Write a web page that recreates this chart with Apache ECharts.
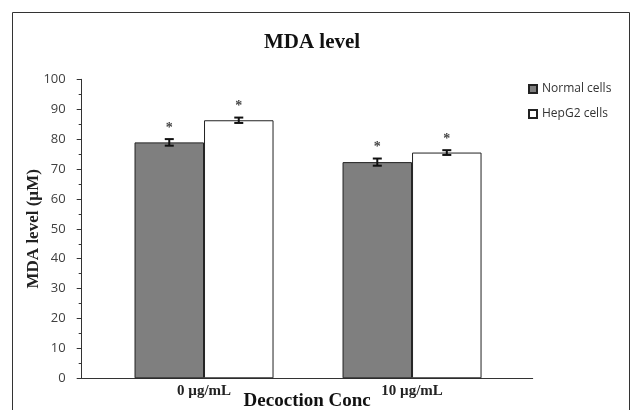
<!DOCTYPE html>
<html>
<head>
<meta charset="utf-8">
<script src="https://cdn.jsdelivr.net/npm/echarts@6/dist/echarts.min.js"></script>
<style>
html,body{margin:0;padding:0;background:#fff;}
#chart{width:637px;height:410px;}
</style>
</head>
<body>
<div id="chart"></div>
<script>
// ---- data ----
var categories = ['0 \u00b5g/mL', '10 \u00b5g/mL'];
var categoryPos = [0, 1];
var normalValues = [78.9, 72.3];
var normalErrors = [1.1, 1.2];
var hepg2Values = [86.3, 75.5];
var hepg2Errors = [0.9, 0.8];
var normalMarks = ['*', '*'];
var hepg2Marks = ['*', '*'];
var yTicks = [0, 10, 20, 30, 40, 50, 60, 70, 80, 90, 100];

var BAR_W = 69.5;
var serif = '"Liberation Serif", "DejaVu Serif", serif';
var sans = '"Open Sans", "Liberation Sans", sans-serif';

function errData(vals, errs, marks) {
  return vals.map(function (v, i) { return [categoryPos[i], v, errs[i], marks[i]]; });
}

function errRender(offset) {
  return function (params, api) {
    var x = api.value(0), v = api.value(1), e = api.value(2);
    var top = api.coord([x, v + e]);
    var bot = api.coord([x, v - e]);
    var cx = top[0] + offset;
    var cap = 4.5;
    var st = { stroke: '#111', lineWidth: 2 };
    return {
      type: 'group',
      children: [
        { type: 'line', shape: { x1: cx, y1: top[1], x2: cx, y2: bot[1] }, style: st },
        { type: 'line', shape: { x1: cx - cap, y1: top[1], x2: cx + cap, y2: top[1] }, style: st },
        { type: 'line', shape: { x1: cx - cap, y1: bot[1], x2: cx + cap, y2: bot[1] }, style: st },
        { type: 'text', x: cx, y: top[1] - 4,
          style: { text: api.value(3), fill: '#444', font: 'bold 14px ' + serif, align: 'center', verticalAlign: 'bottom' } }
      ]
    };
  };
}

var chart = echarts.init(document.getElementById('chart'));
chart.setOption({
  animation: false,
  backgroundColor: '#fff',
  title: {
    text: 'MDA level',
    left: 307, top: 27, textAlign: 'center',
    textStyle: { fontFamily: serif, fontWeight: 'bold', fontSize: 21, color: '#111' }
  },
  legend: {
    orient: 'vertical',
    left: 523, top: 78,
    itemWidth: 8, itemHeight: 8, itemGap: 13,
    icon: 'rect',
    textStyle: { fontFamily: sans, fontSize: 12, color: '#333' },
    data: ['Normal cells', 'HepG2 cells']
  },
  graphic: [
    { type: 'polyline', shape: { points: [[12.5, 420], [12.5, 12.5], [629.5, 12.5], [629.5, 420]] },
      style: { stroke: '#333', lineWidth: 1, fill: null }, silent: true }
  ],
  grid: { left: 81.7, right: 104.3, top: 79.3, bottom: 31.7, containLabel: false, outerBoundsMode: 'none' },
  xAxis: {
    type: 'value',
    min: -0.588, max: 1.58,
    name: 'Decoction Conc',
    nameLocation: 'middle',
    nameGap: 13,
    nameMoveOverlap: false,
    nameTextStyle: { fontFamily: serif, fontWeight: 'bold', fontSize: 19, color: '#111' },
    axisLine: { show: true, onZero: false, lineStyle: { color: '#333', width: 1 } },
    axisTick: { show: false },
    splitLine: { show: false },
    axisLabel: {
      customValues: categoryPos,
      margin: 5,
      formatter: function (v) { var i = categoryPos.indexOf(v); return i >= 0 ? categories[i] : ''; },
      fontFamily: serif, fontWeight: 'bold', fontSize: 15, color: '#222'
    }
  },
  yAxis: {
    type: 'value',
    min: 0, max: 100, interval: 10,
    name: 'MDA level (\u00b5M)',
    nameLocation: 'middle',
    nameGap: 40,
    nameMoveOverlap: false,
    nameTextStyle: { fontFamily: serif, fontWeight: 'bold', fontSize: 17, color: '#222' },
    axisLine: { show: true, onZero: false, lineStyle: { color: '#333', width: 1 } },
    axisTick: { show: true, inside: false, length: 5, lineStyle: { color: '#333' } },
    minorTick: { show: true, splitNumber: 2, length: 3, lineStyle: { color: '#333' } },
    splitLine: { show: false },
    axisLabel: {
      margin: 16, fontFamily: sans, fontSize: 13, color: '#404040',
      customValues: yTicks
    }
  },
  series: [
    {
      name: 'Normal cells', type: 'bar',
      barWidth: BAR_W, barGap: '0%',
      itemStyle: { color: '#7f7f7f', borderColor: '#222', borderWidth: 1 },
      data: normalValues.map(function (v, i) { return [categoryPos[i], v]; })
    },
    {
      name: 'HepG2 cells', type: 'bar',
      barWidth: BAR_W, barGap: '0%',
      itemStyle: { color: '#ffffff', borderColor: '#222', borderWidth: 1 },
      data: hepg2Values.map(function (v, i) { return [categoryPos[i], v]; })
    },
    {
      type: 'custom', name: 'errN', renderItem: errRender(-BAR_W / 2),
      data: errData(normalValues, normalErrors, normalMarks), z: 5,
      encode: { x: 0, y: 1 }
    },
    {
      type: 'custom', name: 'errH', renderItem: errRender(BAR_W / 2),
      data: errData(hepg2Values, hepg2Errors, hepg2Marks), z: 5,
      encode: { x: 0, y: 1 }
    }
  ]
});
</script>
</body>
</html>
